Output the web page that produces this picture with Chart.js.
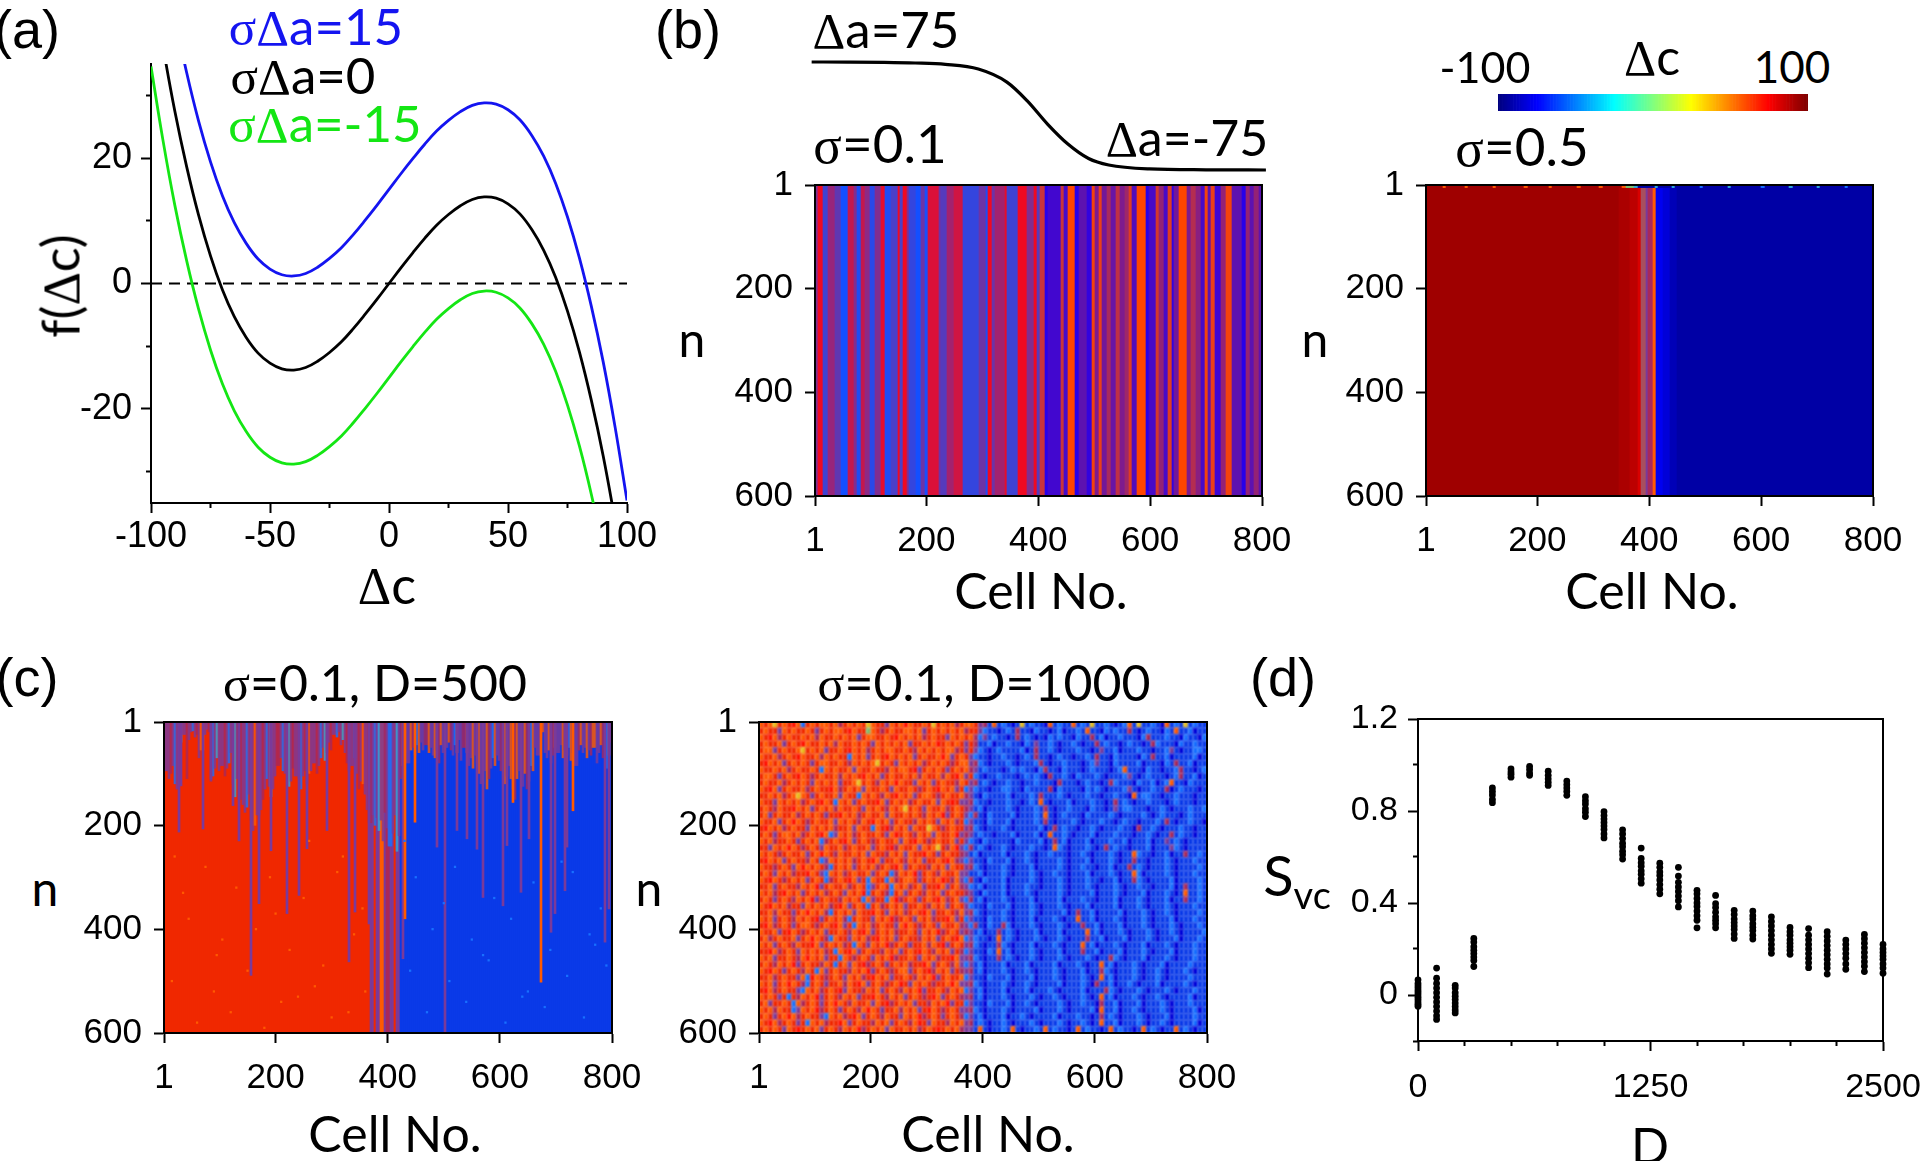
<!DOCTYPE html>
<html>
<head>
<meta charset="utf-8">
<title>Delta c panels</title>
<style>
  body { margin: 0; background: #fff; width: 1920px; height: 1161px; position: relative; overflow: hidden; }
  canvas { position: absolute; }
  .lab { position: absolute; white-space: nowrap; transform: translate(-50%, -50%); line-height: 1; font-family: Lato, 'Liberation Sans', sans-serif; color: #000; }
  .lab i { font-family: 'Liberation Serif', serif; font-style: normal; }
</style>
<script src="https://cdn.jsdelivr.net/npm/chart.js@4"></script>
</head>
<body>
<script>
'use strict';

// panel (a) curves
var curveCells = [-100, -95, -90, -85, -80, -75, -70, -65, -60, -55, -50, -45, -40, -35, -30, -25, -20, -15, -10, -5, 0, 5, 10, 15, 20, 25, 30, 35, 40, 45, 50, 55, 60, 65, 70, 75, 80, 85, 90, 95, 100];
var blackCurve = [49.6, 37.9, 27.5, 18.6, 10.9, 4.4, -1.0, -5.3, -8.6, -11.1, -12.7, -13.6, -13.8, -13.4, -12.4, -11.0, -9.3, -7.2, -4.9, -2.5, 0, 2.5, 4.9, 7.2, 9.3, 11.0, 12.4, 13.4, 13.8, 13.6, 12.7, 11.1, 8.6, 5.3, 1.0, -4.4, -10.9, -18.6, -27.5, -37.9, -49.6];
var blueCurve = [64.6, 52.9, 42.5, 33.6, 25.9, 19.4, 14.0, 9.7, 6.4, 3.9, 2.3, 1.4, 1.2, 1.6, 2.6, 4.0, 5.7, 7.8, 10.1, 12.5, 15, 17.5, 19.9, 22.2, 24.3, 26.0, 27.4, 28.4, 28.8, 28.6, 27.7, 26.1, 23.6, 20.3, 16.0, 10.6, 4.1, -3.6, -12.5, -22.9, -34.6];
var greenCurve = [34.6, 22.9, 12.5, 3.6, -4.1, -10.6, -16.0, -20.3, -23.6, -26.1, -27.7, -28.6, -28.8, -28.4, -27.4, -26.0, -24.3, -22.2, -19.9, -17.5, -15, -12.5, -10.1, -7.8, -5.7, -4.0, -2.6, -1.6, -1.2, -1.4, -2.3, -3.9, -6.4, -9.7, -14.0, -19.4, -25.9, -33.6, -42.5, -52.9, -64.6];

// profile above panel (b)
var profileCells = [-5, 60, 125, 180, 234, 293, 344, 380, 417, 453, 490, 526, 599, 700, 807];
var profileValues = [75, 74.9, 74.5, 73.6, 71.7, 65.2, 47.1, 21.4, -11.5, -38.9, -59, -68, -73.5, -74.7, -75];

// panel (b) sigma=0.1, stripes: last cell of each stripe and how far it leans to the high state (0..1)
var stripeEnds = [6, 15, 24, 35, 47, 59, 69, 75, 82, 90, 99, 107, 119, 126, 136, 149, 152, 158, 164, 169, 181, 189, 196, 202, 222, 226, 237, 249, 264, 294, 306, 310, 317, 323, 340, 343, 363, 379, 392, 398, 402, 412, 417, 440, 446, 452, 465, 472, 486, 496, 502, 508, 514, 522, 530, 538, 546, 554, 562, 568, 577, 592, 597, 610, 615, 624, 632, 639, 642, 652, 665, 673, 682, 691, 698, 704, 709, 715, 726, 735, 747, 764, 772, 779, 785, 794, 800];
var stripeShares = [0.5, 1, 0.2, 0.6, 0.35, 0, 0.8, 0.5, 0.05, 0.8, 0.55, 0.1, 0.5, 0.95, 0.05, 0.25, 1, 0.25, 1, 0.5, 0.15, 0, 0.4, 0.02, 0.9, 0.4, 0.3, 0.65, 0.85, 0.15, 0.4, 0.05, 1, 0.4, 0.65, 0.95, 0.2, 1, 0.5, 1, 0.3, 0.75, 0, 0.12, 0.75, 0.15, 1, 0, 0.25, 0.05, 0.95, 0.4, 0.9, 0.35, 0.6, 0.3, 0.7, 0.4, 0.55, 0.85, 0.2, 1, 0, 0.15, 0.8, 0.5, 0.15, 0.85, 0.05, 0.35, 1, 0.4, 0.65, 0.45, 0.15, 0.95, 0.25, 0.9, 0.1, 0.5, 0.95, 0.25, 0, 0.5, 0.25, 0.5, 0.25];

// panel (b) sigma=0.5, bands and the speckled first rows
var sigma05Ends = [345, 365, 380, 384, 394, 398, 407, 412, 425, 436, 450, 800];
var sigma05Tones = 'KHJIQPMOAEFN';
var sigma05TopEnds = [30, 36, 70, 76, 120, 126, 175, 182, 220, 226, 270, 278, 310, 316, 350, 358, 372, 380, 410, 416, 440, 446, 490, 496, 540, 546, 600, 606, 650, 656, 700, 706, 750, 756, 800];
var sigma05TopTones = 'KOKOKOKOKOKOKOKOGCNCNCNLNCNLNCNCNLN';

// colour bar ends
var colorbarRange = [-100, 100];

// panel (c) D=500
var d500BaseEnds = [368, 374, 380, 386, 392, 398, 404, 410, 416, 420, 800];
var d500BaseTones = 'RPRPOPMPRPB';
var d500Fringe = [95, 110, 100, 85, 120, 130, 100, 40, 25, 110, 35, 20, 18, 30, 25, 70, 55, 25, 15, 20, 115, 105, 90, 70, 95, 85, 105, 90, 80, 60, 120, 145, 110, 150, 160, 175, 165, 140, 190, 210, 200, 180, 170, 150, 130, 110, 125, 145, 130, 105, 85, 70, 95, 100, 80, 125, 115, 90, 105, 110, 130, 105, 95, 120, 100, 95, 80, 100, 85, 70, 50, 75, 60, 40, 55, 25, 30, 20, 45, 35, 60, 80, 95, 85, 70, 100, 130, 115, 120, 140, 170, 195, 180, 200, 185, 210, 190, 230, 175, 205, 240, 215, 180, 250, 220, 110, 85, 60, 80, 55, 50, 65, 45, 60, 40, 55, 45, 60, 50, 65, 70, 55, 80, 45, 60, 50, 40, 55, 65, 45, 60, 35, 75, 50, 60, 85, 70, 90, 65, 80, 100, 120, 95, 130, 110, 90, 70, 85, 65, 75, 95, 120, 105, 85, 110, 130, 150, 110, 95, 125, 100, 130, 115, 85, 95, 50, 65, 30, 20, 60, 70, 55, 80, 65, 50, 60, 45, 70, 55, 65, 50, 75, 60, 85, 55, 45, 60, 50, 70, 55, 65, 50, 80, 60, 45, 70, 55, 90, 65, 40];
var d500FringeTones = 'PPMPLPPCPMPPLPMPOPPMPLPC';
var d500FringeTonesRight = 'POPMOPPOMPLOPPMOP';
var d500StreakCells = [28, 33, 69, 86, 124, 135, 157, 169, 191, 222, 242, 257, 291, 332, 342, 368, 428, 431, 450, 489, 502, 523, 543, 559, 572, 608, 612, 623, 639, 652, 674, 693, 699, 717, 722, 732, 788, 794];
var d500StreakEnds = [213, 124, 207, 111, 162, 230, 489, 351, 249, 370, 335, 245, 210, 463, 367, 390, 457, 380, 194, 242, 598, 210, 226, 246, 339, 355, 239, 156, 329, 226, 502, 406, 370, 326, 242, 172, 425, 361];
var d500StreakTones = 'PPPPPPPPPPPPPPPPPOOPPPPPPPPOPPOPPPPOPP';
var d500SpeckCells = [20, 75, 130, 190, 250, 310, 355, 45, 105, 165, 225, 285, 340, 15, 90, 150, 210, 270, 330, 60, 120, 180, 240, 300, 360, 35, 95, 200, 260, 320, 450, 520, 590, 660, 730, 780, 480, 550, 620, 690, 760, 440, 510, 580, 650, 720, 790, 470, 540, 610, 680, 750, 430, 500, 570, 640, 710, 770];
var d500SpeckRows = [260, 280, 320, 300, 340, 290, 360, 380, 420, 400, 440, 470, 410, 500, 520, 480, 540, 510, 560, 580, 560, 590, 530, 570, 520, 330, 450, 370, 230, 260, 300, 280, 340, 310, 290, 360, 400, 420, 380, 440, 410, 480, 500, 460, 520, 490, 470, 560, 540, 580, 550, 570, 230, 350, 450, 530, 270, 430];

// panel (c) D=1000, 96 columns and 48 rows of tones
var d1000Rows = [
  'OROYRORSOLROROOROMRORORYORRPOROSORRORYROROMROORPMBOBLBDBYBLBBDOBLBBOBLBYBBLBDBLOBYBBLBDOBLBYBLBB',
  'RORRPORORRORPROROORSORRGORMRORROOROPROROROROMRRPLBBDBLBMBBDLBBDBLDBBLBOBBDLBLBBMBDBLBBDLBOBBLDBB',
  'ORSOMRORROROMORROROROPROORRORSOROROMRORRPOROROMLPBLBBDBMBLBDBDLBLBBDLBBMBLDBBLBBBDLMBBBLBBDLBBDL',
  'RORROPRORSORROROMORRORORPOROROROPRROROSRORORPRMBBLDBBLBBDLBPBBLBDBBLBDBBMBLBBDBLBBDBMLBBBDLBBLBB',
  'ROOPRORROYROROPRRORSOROMROROORRORMOROROROOMRPRPLBDBLBBBBLDBMBBLBDBBBLBBDBPBBLDBBBLBBDBBLPBDBBLLB',
  'ORROMRORSORROMORORRLOROPRORSOROROPRORROSOPRORPLBBDBBLBBDBLBMBBDBLBBDBBLBMBBDLBBBBDLBMBBLDBBBBLDB',
  'RSOROPRORORPROORRORMOROROYRORPOROROMRORORMROOPMLBDBBBLBDBBBLMBDBBLBBBDBLPBBDLBBBBLDBBBDLBMBBLDBB',
  'ORROROMRORRORLORORROPORRORRMOROORSPRORORPROROMPBLBBBDBLBLBBDLMBBDLBBBDBLBBBDBLOBBBDLBBDBBLMBBDBL',
  'ROORPRORSORMRORROMORORSOROPRORROROMORROMORSOPRLBDBBLBBBDBLBLBDMBBLBDLBBBLBDBBBLPBDBLBBBDBLMBBLDB',
  'RORROMRORORPOROROPRROYRORMOROSORRPOROPRORRMORPMBLBDBBLBBDBBLBBBDMBBBDBLBBDBMLBBBDLBBLDBLOBBDLBBB',
  'ORSOPRORROMRORRSOMROROPORRORPORRORMRORSOROPRLPLBBDBBLLBBDLBBBBMDLBBBBDLBLBDBBBLPBDBBLBBMDBLBBBDB',
  'RROROMROYORPRORROPORRLORORMORSOROPROORMRORROMPBDLBBBBLDBBBLBMBBBLBDBBBLBBDBBLBBDOBLLBBDBBLBBBDBB',
  'ORRPOROROMRORSORLOROPRORRSOPROROMRORROPORSRPPMLBBDBBBLBBDBLBOBDBBBLDBBBLBBDBMBLBDBBLBBBDBLBBBDBB',
  'RORMORRSOROPROROMORRORPORORMOROYRORPORROMRORMPBLDBBBBLBDBBBLBMBDBBLBBBDLBBDBPBLLBBBDBBLBDBBBLBBL',
  'ROPRORROMRORORPRRSOROMRORROPORRORORMOROSPRORPLMBDLBBBBLDBBBLBOBDBLBBBDLBBBBLBDBBBBLBDBLBBBDBLBBB',
  'ORROPROSORMRORROPORORMORSOROPRORRMORORPOROMRLPBBDLBBBLDBBBBLBMBDBBBLBDBBBLBBDBLBBDBBBLBMBDBBLBBD',
  'RSOROMRORRPOROROMRROPORRLORSMOROPORRYORMRORRPMLBDBBBLBDBBBBBLDBMBLBBDBBLBDBBBLBBDMBBLBDBBBLBBDBB',
  'RORPROOROMRORSOLPOROMRORRORPOSRORMOROPORROSPMPBLBBDBBBLDBBBLDBOBBLBDBBBLDBBBLBBBDBBLBDBBMBLBBDBB',
  'OROMRRORPROROLMRORSOPRORMRORROPORSORMRORROPRPLBDLBBBBBDLBBBBLDBMBLDBBBLDBBBLBBLDBBBLDBBPBLBDBBBB',
  'RRPOROSORMRORPORROMRORROPRORSMORROPOROYRMOSPLMBLBDBBLBDBBBLBBDBOLBDBBBLBDBMBLBBDBBBLDBBBPLBDBBBB',
  'ORORMRORROPROSORMORROROPORRMOROPORRSORPRORRMPBLDBBBBLDBBBLBDBBLBBBDBBLBDBBBLBDBBOLBBDBBLDBBMBBLB',
  'RSOROPRORRMORLPOROROMRORSOPRRORMOROPRRORSOMPLPBBDLBBBLDBBLBDBBBBLBDBBBLDBBBLBDBBMBBDBBBLBDBBBLBB',
  'ORRMRORPOSORORMLROROPROROMRORSOPRORRMOROPORRPMLBDBBBLBDBBBLDBBBBLBDBBLBBDBBLDBBMBLBDBBBLBDBBBBLB',
  'RORPOROMRRSORPLOROMRORROPRORLMOROSPRORMORROPPBBLDBBBLBDBBBLBDBBLBBDBBBLDBBBLBDBBOLDBBBBLBDBBBLBB',
  'ORSORMROROPRORLMRORSOPRLORRLOMROORPROROSRMOPLMBDLBBBLDBBBBLBDBBBLBDBBBLBBDBBLDBBMLBDBBBBLDBBBBLB',
  'RROPRORRMOROSPRORROMRORLPRORLOROMROPRRSOPROMPLBLDBBBLDBBBLBBDBBBLBDBBBLBDBBBLBDBBLBBDBBBLDBMBBLB',
  'OROMRSOROPROROMRORPOROSLRORMLROPRORMOROPRORRMPBDLBBBLDBBBLBDBBBBLBDBBBBLDBBBLBDBBBLDBBBLBDBOBBLB',
  'RORPRORMOROSPRORRMORORLOPRRLOSMRORPRORSOMROPLMBLDBBBLBDBBBLDBBBBLDBBBLBBDBBBLDBBBLBDBBBLDBBMBBLB',
  'ORSOROMRRPOROROMRSOPRORLROMROROPRRORMOROPRORPLBBDLBBBLDBBBLBDBBBLBDBBBLDBBBBLDBBBLBDBBBLBDBBBLBB',
  'RROMORRPROSOROMLROROPORRSORPOROMRORSOPRRORMOPMLBDBBBLBDBBBLBDBBBBLDBMBBLDBBBBLDBBBLBDBBLBDBBBBLB',
  'OROPRORMORORSPROROMLRORRPOROSMRORPOROMRRSOPRLPBBDLBBLBDBBBLDBBBLBDBBOBBLDBBBLBDBBBLBDBBBLDBBBLBB',
  'RSOMRORPROORMRORSOPRLOROMRORRPOSORMRORPORROMPLMBDLBBMLDBBBLBDBBBLBDBBMBBLDBBBLDBBBLBDBBBLBDBBBLB',
  'ORROPRSORMROROPRRORMORSOPROROMRRORPOROSMRORPMPBLDBBMBLBDBBBLDBBBLDBBBBOBLDBBBLBDBBBLBDBBLBDBBBBL',
  'ROMRORROPROSORMLORRPOROMRSOROPRORRMOROPRORSOLPLBBDBOBLBDBBBLBDBBLBDBBBMBBLDBBBLDBBBLBDBBBLDBBBLB',
  'OROPRORMORRSOPROROMRLORPOROSMRORPRROMORSPRORPMLBDBBMLBDBBBLDBBBLBDBBBOBLDBBBLBDBBBLDBBBLBDBBBLBB',
  'RRSOMRORPOROROMRLORSOPRORRMOROPRORSORMOROPRMLPBBDLBOBLDBBBLBDBBBLDBBBMBBLDBBBLDBBBLBDBBBLDBBBLBB',
  'OROPRRORMOSOROPRRLORMRORPOROSMRRORPOROMRRSOPPMLBDBBMBLBDBBLBDBBBLBDBBBLBDBBMLBDBBBLDBBBLBDBBBLBB',
  'RORMOROSPRORRMORLROPORSMRORPROROMRRSOPRORMOPLPBLDBBBLDBBBLDBBBBLDBBBLBDBBOBLDBBBLBDBBBLDBBBBLBBB',
  'ORSORPRORMORLOPRORRMOROSPRORMROOPRORSMOROPRMPMBLDBBBLBDBBLBDBBBLBDBBBLDBBMLBDBBBLBDBBLBDBBBLBDBB',
  'RROMRORRPOLSORMRORPOROMRSOROPRRORMOROSPRORROLPBBDLBBBLDBBBLDBBBLBDBBBLBDBOBLDBBBLBDBBLBDBBBBLBBB',
  'OROPROSORMLRORPRROMORSOPRORMROSRPORORMRROSOPPMLBDBBBLBDBBLBDBBBBLDBBBLBDMBBLDBBLBDBBBLDBBBBLBDBB',
  'RSOMRORRPLOROMRORSPORRMOROPRORMOROSPRRORMOROLPBLDBBBLDBBBLDBBBLBDBBBBLDBBBMLBDBBBLBDBBBLBDBBBLBB',
  'ORORPRLRMOROSPRORMOROPRRSORMOROPRORMRSOPRORMPMBLDBBBLBDBBBLBDBBLBDBBBLBDBOBLDBBBLBDBBLBDBBBBLDBB',
  'ROPRRORLOMRORPROSORMORROPORSMROROPRRMOROSPRRLPBBDLBBBLDBBLBDBBBBLBDBBLBBDMBBLDBBBLDBBBLBDBBBLBBB',
  'OROMORRLPOROSMRORPRORMOSORPRROMOROPRSORMRORPPMLBDBBBLBDBBBBLDBBBLBDBBBBLDOBBLDBBLBDBBBLBDBBBBLDB',
  'RORPROSOMRORRPLOROMRSOPRORMORRPOROSMRORPRORMLPBLDBBBLDBBLBDBBBBLDBBBLBBDBMBLBDBBBLBDBBBLDBBBBLBB',
  'ORSOMRORPRLOROMRRSOPRORRMOROPRORMOSRPORRMOROPMBLBDBBLBDBBBLBDBBBLBDBBLBDBOBBLDBBBLBDBBLBDBBBBLDB',
  'RORORPORSROROPRORMOROSMROROPORROROMRORSROROMPPBOBDBBLBOBDBBLBOBLBBDBOBLBBDBOBLBBDBOBLBDBBOBLBDBB'
];

// panel (d) one list per D value
var dValuesX = [0, 100, 200, 300, 400, 500, 600, 700, 800, 900, 1000, 1100, 1200, 1300, 1400, 1500, 1600, 1700, 1800, 1900, 2000, 2100, 2200, 2300, 2400, 2500];
var dValuesY = [
  [0.066, 0.05, 0.04, 0.03, 0.02, 0.01, 0, -0.01, -0.02, -0.03, -0.04, -0.049],
  [0.117, 0.073, 0.05, 0.03, 0.01, -0.01, -0.03, -0.05, -0.07, -0.09, -0.106],
  [0.042, 0.03, 0.01, -0.005, -0.02, -0.035, -0.05, -0.065, -0.078],
  [0.246, 0.23, 0.21, 0.195, 0.18, 0.165, 0.15, 0.124],
  [0.9, 0.885, 0.87, 0.85, 0.836],
  [0.983, 0.97, 0.96, 0.947],
  [0.994, 0.98, 0.965, 0.955],
  [0.973, 0.955, 0.94, 0.925, 0.911],
  [0.93, 0.915, 0.9, 0.885, 0.868],
  [0.862, 0.845, 0.83, 0.81, 0.795, 0.776],
  [0.797, 0.78, 0.765, 0.75, 0.735, 0.72, 0.7, 0.683],
  [0.718, 0.7, 0.68, 0.66, 0.645, 0.625, 0.61, 0.591],
  [0.639, 0.594, 0.575, 0.56, 0.54, 0.525, 0.505, 0.486],
  [0.573, 0.555, 0.535, 0.52, 0.5, 0.48, 0.46, 0.44],
  [0.555, 0.517, 0.49, 0.47, 0.45, 0.43, 0.41, 0.383],
  [0.455, 0.44, 0.42, 0.4, 0.385, 0.365, 0.345, 0.325, 0.292],
  [0.433, 0.397, 0.38, 0.36, 0.34, 0.325, 0.31, 0.292],
  [0.368, 0.35, 0.33, 0.315, 0.3, 0.285, 0.265, 0.246],
  [0.365, 0.345, 0.33, 0.31, 0.295, 0.28, 0.26, 0.243],
  [0.34, 0.32, 0.3, 0.28, 0.26, 0.24, 0.22, 0.2, 0.181],
  [0.294, 0.275, 0.26, 0.24, 0.225, 0.21, 0.195, 0.177],
  [0.289, 0.26, 0.24, 0.22, 0.2, 0.18, 0.16, 0.14, 0.119],
  [0.275, 0.255, 0.235, 0.215, 0.195, 0.175, 0.155, 0.135, 0.117, 0.091],
  [0.239, 0.22, 0.2, 0.18, 0.16, 0.135, 0.112],
  [0.263, 0.245, 0.225, 0.205, 0.185, 0.165, 0.145, 0.125, 0.102],
  [0.22, 0.2, 0.185, 0.17, 0.155, 0.135, 0.117, 0.095]
];

// tick labels
var cellTicks = [1, 200, 400, 600, 800];
var rowTicks = [1, 200, 400, 600];

// styling below

var TONES = {
  K: '#a00000', H: '#ac0000', J: '#bc0000', I: '#d80000', Q: '#a8505f', M: '#a8285a', P: '#7a3a9a',
  R: '#f02800', S: '#ff1000', O: '#ff5a00', Y: '#e8c020', G: '#80c070', C: '#30a8d8',
  L: '#1870ff', B: '#0a3ae8', D: '#0000d8', A: '#0000f0', E: '#0000d8', F: '#0000b8', N: '#0000a5'
};
var TICK_FONT = 'Liberation Sans';
var MARGIN = { l: 100, t: 20, r: 60, b: 80 };

Chart.defaults.animation = false;
Chart.defaults.responsive = false;
Chart.defaults.plugins.legend.display = false;
Chart.defaults.plugins.tooltip.enabled = false;

var framePlugin = {
  id: 'frame',
  afterDraw: function(chart) {
    var a = chart.chartArea;
    var c = chart.ctx;
    c.save();
    c.strokeStyle = '#000';
    c.lineWidth = 2;
    c.strokeRect(a.left, a.top, a.right - a.left, a.bottom - a.top);
    c.restore();
  }
};

// soft edges, the noise in the picture is smeared by its own resampling
function softPlugin(amount) {
  return {
    id: 'soft',
    beforeDatasetsDraw: function(chart) {
      chart.ctx.filter = 'blur(' + amount + 'px)';
    },
    afterDatasetsDraw: function(chart) {
      chart.ctx.filter = 'none';
    }
  };
}

function makeCanvas(left, top, width, height) {
  var canvas = document.createElement('canvas');
  canvas.width = width;
  canvas.height = height;
  canvas.style.left = left + 'px';
  canvas.style.top = top + 'px';
  document.body.appendChild(canvas);
  return canvas;
}

function plotCanvas(plot) {
  return makeCanvas(plot.x0 - MARGIN.l, plot.y0 - MARGIN.t, plot.x1 - plot.x0 + MARGIN.l + MARGIN.r, plot.y1 - plot.y0 + MARGIN.t + MARGIN.b);
}

function clearPadding(scale) {
  scale.paddingTop = 0;
  scale.paddingBottom = 0;
  scale.paddingLeft = 0;
  scale.paddingRight = 0;
}

function tickScale(axis, min, max, values, padding, size, reverse) {
  return {
    type: 'linear',
    axis: axis,
    position: axis === 'x' ? 'bottom' : 'left',
    weight: 5,
    offset: false,
    min: min,
    max: max,
    reverse: !!reverse,
    afterBuildTicks: function(scale) {
      scale.ticks = values.map(function(v) { return { value: v }; });
    },
    afterFit: function(scale) {
      if (axis === 'x') {
        scale.height = MARGIN.b;
      } else {
        scale.width = MARGIN.l;
      }
      clearPadding(scale);
    },
    grid: { offset: false, drawOnChartArea: false, drawTicks: true, tickLength: 10, tickWidth: 2, tickColor: '#000' },
    border: { display: true, color: '#000', width: 2 },
    ticks: {
      autoSkip: false, maxRotation: 0, minRotation: 0, padding: padding, color: '#000',
      font: { family: TICK_FONT, size: size },
      callback: function(v) { return String(v); }
    }
  };
}

function minorScale(axis, min, max, values) {
  return {
    type: 'linear',
    axis: axis,
    position: axis === 'x' ? 'bottom' : 'left',
    weight: 0,
    min: min,
    max: max,
    afterBuildTicks: function(scale) {
      scale.ticks = values.map(function(v) { return { value: v }; });
    },
    afterFit: function(scale) {
      if (axis === 'x') {
        scale.height = 0;
      } else {
        scale.width = 0;
      }
      clearPadding(scale);
    },
    grid: { drawOnChartArea: false, drawTicks: true, tickLength: 5, tickWidth: 2, tickColor: '#000' },
    border: { display: false },
    ticks: { display: false, autoSkip: false }
  };
}

function padding() {
  return { top: MARGIN.t, right: MARGIN.r, left: 0, bottom: 0 };
}

function jet(v) {
  var t = (v + 100) / 200;
  var r = Math.min(1, Math.max(0, t < 0.875 ? (t - 0.375) / 0.25 : 1 - (t - 0.875) * 4));
  var g = Math.min(1, Math.max(0, t < 0.5 ? (t - 0.125) / 0.25 : (0.875 - t) / 0.25));
  var b = Math.min(1, Math.max(0, t < 0.125 ? 0.5 + t * 4 : (0.625 - t) / 0.25));
  return 'rgb(' + Math.round(r * 255) + ',' + Math.round(g * 255) + ',' + Math.round(b * 255) + ')';
}

function stripeColor(share, cell) {
  var low = cell <= 402 ? [20, 80, 255] : [40, 0, 235];
  var high = cell <= 402 ? [240, 10, 35] : [255, 70, 0];
  var rgb = low.map(function(l, i) { return Math.round(l + (high[i] - l) * share); });
  return 'rgb(' + rgb.join(',') + ')';
}

// spread bands onto equal columns, each column takes the band its middle cell is in
function bandsToColumns(ends, picks, count) {
  var out = [];
  for (var i = 0; i < count; i++) {
    var cell = (i + 0.5) * 800 / count;
    var k = 0;
    while (k < ends.length - 1 && cell > ends[k]) {
      k++;
    }
    out.push(picks[k]);
  }
  return out;
}

function columnLabels(count) {
  var labels = [];
  for (var i = 0; i < count; i++) {
    labels.push(i);
  }
  return labels;
}

function layer(spans, colors, index) {
  return {
    xAxisID: 'xCols',
    yAxisID: 'y',
    data: spans,
    backgroundColor: colors,
    grouped: false,
    categoryPercentage: 1,
    barPercentage: 1,
    borderWidth: 0,
    order: -index
  };
}

function fullSpans(count, from, to) {
  var spans = [];
  for (var i = 0; i < count; i++) {
    spans.push([from, to]);
  }
  return spans;
}

function heatOptions() {
  return {
    layout: { padding: padding() },
    scales: {
      xCols: { type: 'category', axis: 'x', display: false, offset: true },
      x: tickScale('x', 1, 800, cellTicks, 14, 35),
      y: tickScale('y', 1, 600, rowTicks, 12, 35, true)
    }
  };
}

function heatChart(plot, count, datasets, extraPlugins) {
  new Chart(plotCanvas(plot), {
    type: 'bar',
    data: { labels: columnLabels(count), datasets: datasets },
    options: heatOptions(),
    plugins: [framePlugin].concat(extraPlugins || [])
  });
}

function label(html, x, y, size, color, rotate) {
  var div = document.createElement('div');
  div.className = 'lab';
  div.innerHTML = html;
  div.style.left = x + 'px';
  div.style.top = y + 'px';
  div.style.fontSize = size + 'px';
  if (color) {
    div.style.color = color;
  }
  if (rotate) {
    div.style.transform = 'translate(-50%, -50%) rotate(' + rotate + 'deg)';
  }
  document.body.appendChild(div);
}

// panel (a)

function zipLine(xs, ys) {
  return xs.map(function(x, i) { return { x: x, y: ys[i] }; });
}

new Chart(plotCanvas({ x0: 151, x1: 627, y0: 64, y1: 503 }), {
  type: 'line',
  data: {
    datasets: [
      { data: zipLine(curveCells, blueCurve), borderColor: '#1414f0', borderWidth: 2.8, pointRadius: 0, tension: 0.4 },
      { data: zipLine(curveCells, blackCurve), borderColor: '#000', borderWidth: 2.8, pointRadius: 0, tension: 0.4 },
      { data: zipLine(curveCells, greenCurve), borderColor: '#14e614', borderWidth: 2.8, pointRadius: 0, tension: 0.4 },
      { data: [{ x: -100, y: 0 }, { x: 100, y: 0 }], borderColor: '#000', borderWidth: 2.2, borderDash: [11, 7], pointRadius: 0 }
    ]
  },
  options: {
    layout: { padding: padding() },
    scales: {
      x: tickScale('x', -100, 100, [-100, -50, 0, 50, 100], 2, 36),
      y: tickScale('y', -35, 35, [-20, 0, 20], 9, 36),
      x2: minorScale('x', -100, 100, [-75, -25, 25, 75]),
      y2: minorScale('y', -35, 35, [-30, -10, 10, 30])
    }
  }
});

// profile curve above (b)

new Chart(makeCanvas(790, 42, 500, 150), {
  type: 'line',
  data: {
    datasets: [{ data: zipLine(profileCells, profileValues), borderColor: '#000', borderWidth: 3.2, pointRadius: 0, cubicInterpolationMode: 'monotone', clip: false }]
  },
  options: {
    layout: { padding: { left: 25, right: 28, top: 20, bottom: 22 } },
    scales: {
      x: { type: 'linear', display: false, min: 1, max: 800 },
      y: { type: 'linear', display: false, min: -75, max: 75 }
    }
  }
});

// panel (b) heat maps, one column per pixel of the plot

var COLS_B = 447;
var stripeValues = bandsToColumns(stripeEnds, stripeShares, COLS_B);
heatChart({ x0: 815, x1: 1262, y0: 185, y1: 496 }, COLS_B, [
  layer(fullSpans(COLS_B, 1, 600), stripeValues.map(function(s, i) {
    return stripeColor(s, (i + 0.5) * 800 / COLS_B);
  }), 0)
]);

heatChart({ x0: 1426, x1: 1873, y0: 185, y1: 496 }, COLS_B, [
  layer(fullSpans(COLS_B, 1, 600), bandsToColumns(sigma05Ends, sigma05Tones.split(''), COLS_B).map(function(t) { return TONES[t]; }), 0),
  layer(fullSpans(COLS_B, 1, 6), bandsToColumns(sigma05TopEnds, sigma05TopTones.split(''), COLS_B).map(function(t) { return TONES[t]; }), 1)
]);

// colour bar, a ramp across the scale and not data

var rampValues = [];
for (var v = colorbarRange[0]; v <= colorbarRange[1]; v++) {
  rampValues.push(v);
}
new Chart(makeCanvas(1498, 94, 310, 17), {
  type: 'bar',
  data: {
    labels: rampValues,
    datasets: [{
      data: rampValues.map(function() { return 1; }),
      backgroundColor: rampValues.map(jet),
      categoryPercentage: 1, barPercentage: 1, borderWidth: 0
    }]
  },
  options: {
    layout: { padding: 0 },
    scales: {
      x: { display: false },
      y: { display: false, min: 0, max: 1 }
    }
  }
});

// panel (c) D=500, 224 columns of 2 pixels; fringe and streaks were read per 4 cells

var COLS_C = 224;
var d500Streaks = columnLabels(COLS_C).map(function() { return null; });
var d500StreakColors = columnLabels(COLS_C).map(function() { return TONES.P; });
d500StreakCells.forEach(function(cell, i) {
  var col = Math.floor((cell - 1) * COLS_C / 800);
  d500Streaks[col] = [1, d500StreakEnds[i]];
  d500StreakColors[col] = TONES[d500StreakTones[i]];
});

function fringeOf(col) {
  return Math.floor(col * d500Fringe.length / COLS_C);
}

function fringeTone(col) {
  var i = fringeOf(col);
  var tones = i < 105 ? d500FringeTones : d500FringeTonesRight;
  return TONES[tones[i % tones.length]] + 'cc';
}

new Chart(plotCanvas({ x0: 164, x1: 612, y0: 722, y1: 1033 }), {
  type: 'bar',
  data: {
    labels: columnLabels(COLS_C),
    datasets: [
      layer(fullSpans(COLS_C, 1, 600), bandsToColumns(d500BaseEnds, d500BaseTones.split(''), COLS_C).map(function(t) { return TONES[t]; }), 0),
      layer(columnLabels(COLS_C).map(function(c) { return [1, d500Fringe[fringeOf(c)]]; }), columnLabels(COLS_C).map(fringeTone), 1),
      layer(d500Streaks, d500StreakColors, 2),
      {
        type: 'scatter',
        xAxisID: 'x',
        yAxisID: 'y',
        data: d500SpeckCells.map(function(c, i) { return { x: c, y: d500SpeckRows[i] }; }),
        pointStyle: 'rect',
        pointRadius: 1.6,
        pointBorderWidth: 0,
        backgroundColor: d500SpeckCells.map(function(c) { return c < 400 ? TONES.O : TONES.L; }),
        order: -3
      }
    ]
  },
  options: heatOptions(),
  plugins: [framePlugin, softPlugin(0.6)]
});

// panel (c) D=1000

var COLS_D = d1000Rows[0].length;
var ROW_SPAN = 600 / d1000Rows.length;
heatChart({ x0: 759, x1: 1207, y0: 722, y1: 1033 }, COLS_D, d1000Rows.map(function(row, r) {
  return layer(fullSpans(COLS_D, r * ROW_SPAN, (r + 1) * ROW_SPAN), columnLabels(COLS_D).map(function(c) {
    return TONES[row[c]] || TONES.B;
  }), r);
}), [softPlugin(0.8)]);

// panel (d)

var dPoints = [];
dValuesX.forEach(function(x, i) {
  dValuesY[i].forEach(function(y) {
    dPoints.push({ x: x, y: y });
  });
});

new Chart(plotCanvas({ x0: 1418, x1: 1883, y0: 719, y1: 1041 }), {
  type: 'scatter',
  data: {
    datasets: [{ data: dPoints, backgroundColor: '#000', pointRadius: 3.4, pointBorderWidth: 0, clip: false }]
  },
  options: {
    layout: { padding: padding() },
    scales: {
      x: tickScale('x', 0, 2500, [0, 1250, 2500], 16, 34),
      y: tickScale('y', -0.2, 1.2, [0, 0.4, 0.8, 1.2], 10, 34),
      x2: minorScale('x', 0, 2500, [250, 500, 750, 1000, 1500, 1750, 2000, 2250]),
      y2: minorScale('y', -0.2, 1.2, [-0.2, 0.2, 0.6, 1])
    }
  },
  plugins: [framePlugin]
});

// text

function panelTag(text, x, y) {
  label('<span style="font-family:\'Liberation Sans\'">' + text + '</span>', x, y, 54);
}

panelTag('(a)', 27, 28);
panelTag('(b)', 688, 28);
panelTag('(c)', 27, 676);
panelTag('(d)', 1283, 676);

label('<i>σΔ</i>a=15', 316, 27, 51, '#1414f0');
label('<i>σΔ</i>a=0', 303, 76, 51, '#000');
label('<i>σΔ</i>a=-15', 325, 124, 51, '#14e614');
label('f(<i>Δ</i>c)', 61, 286, 52, '#000', -90);
label('<i>Δ</i>c', 387, 585, 52);

label('<i>Δ</i>a=75', 886, 30, 51);
label('<i>σ</i>=0.1', 880, 144, 53);
label('<i>Δ</i>a=-75', 1187, 138, 50);
label('<i>σ</i>=0.5', 1522, 147, 53);
label('-100', 1485, 66, 43);
label('100', 1792, 66, 44);
label('<i>Δ</i>c', 1652, 57, 50);

label('n', 692, 339, 48);
label('n', 1315, 339, 48);
label('Cell No.', 1041, 590, 50);
label('Cell No.', 1652, 590, 50);

label('<i>σ</i>=0.1, D=500', 375, 683, 50);
label('<i>σ</i>=0.1, D=1000', 984, 683, 50);
label('n', 45, 888, 48);
label('n', 649, 888, 48);
label('Cell No.', 395, 1133, 50);
label('Cell No.', 988, 1133, 50);

label('S<sub style="font-size:38px">vc</sub>', 1297, 880, 56);
label('D', 1650, 1145, 50);
</script>
</body>
</html>
